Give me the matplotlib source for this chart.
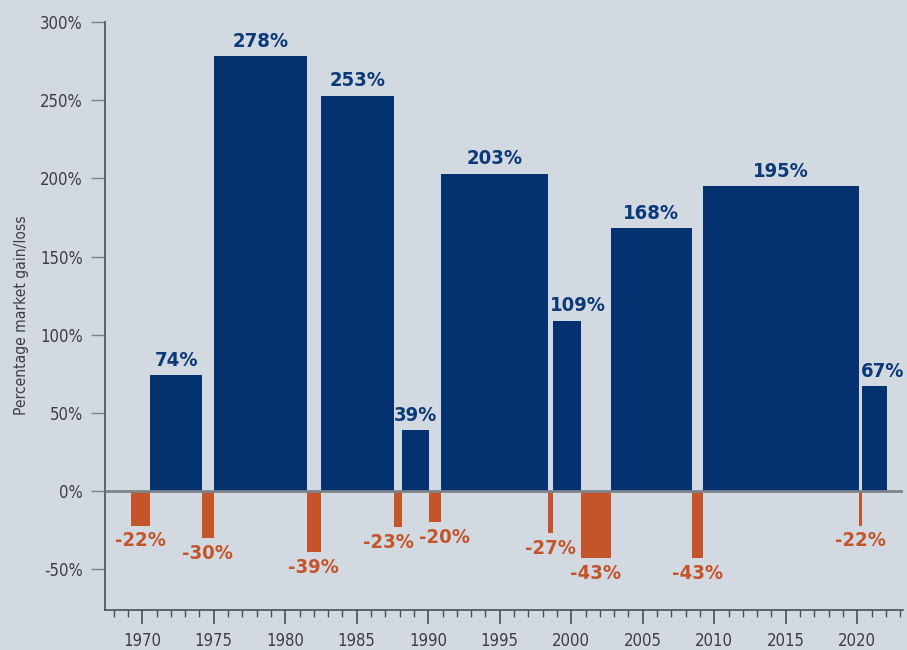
import matplotlib
matplotlib.use("Agg")
import matplotlib.pyplot as plt
from matplotlib import font_manager
from matplotlib.ticker import MultipleLocator, FuncFormatter
import numpy as np

# period boundaries (decimal years) and gain/loss for each period
bounds = [1969.2, 1970.55, 1974.2, 1975.0, 1981.5, 1982.5, 1987.6, 1988.15, 1990.05,
          1990.9, 1998.35, 1998.75, 2000.7, 2002.75, 2008.45, 2009.2, 2020.1, 2020.35, 2022.1]
values = [-22, 74, -30, 278, -39, 253, -23, 39, -20, 203, -27, 109, -43, 168, -43, 195, -22, 67]

bg = "#d3d9e0"
blue = "#04316f"
orange = "#c4552a"

# pick a narrow font if one is around
names = {f.name for f in font_manager.fontManager.ttflist}
if "Liberation Sans Narrow" in names:
    fam = ["Liberation Sans Narrow", "DejaVu Sans"]
    stretch = "normal"
else:
    fam = ["DejaVu Sans"]
    stretch = "condensed"
lab_fs = 14.5
plt.rcParams["font.family"] = fam
plt.rcParams["font.stretch"] = stretch

# sideways nudges (points) for labels that would collide
nudge = {6: -7, 8: 7, 11: 8, 17: 6}

fig = plt.figure(figsize=(9.07, 6.5), dpi=100, facecolor=bg)
ax = fig.add_axes([0.1158, 0.0615, 0.8798, 0.9045])
ax.set_facecolor(bg)

starts = np.array(bounds[:-1])
widths = np.diff(bounds)
vals = np.array(values)
colors = [blue if v > 0 else orange for v in vals]
ax.bar(starts, vals, width=widths, align="edge", color=colors, linewidth=0, zorder=2)
ax.axhline(0, color="#7c838b", lw=2, zorder=3)

for i, (s, w, v) in enumerate(zip(starts, widths, vals)):
    dx = nudge.get(i, 0)
    if v > 0:
        ax.annotate(f"{v}%", (s + w / 2, v), xytext=(dx, 4), textcoords="offset points",
                    ha="center", va="bottom", fontsize=lab_fs, fontweight="bold",
                    fontstretch=stretch, color="#0b3a78")
    else:
        ax.annotate(f"{v}%", (s + w / 2, v), xytext=(dx, -4), textcoords="offset points",
                    ha="center", va="top", fontsize=lab_fs, fontweight="semibold",
                    fontstretch=stretch, color=orange)

ax.set_xlim(1967.4, 2023.2)
ax.set_ylim(-76, 300)
ax.xaxis.set_major_locator(MultipleLocator(5))
ax.xaxis.set_minor_locator(MultipleLocator(1))
ax.yaxis.set_major_locator(MultipleLocator(50))
ax.yaxis.set_major_formatter(FuncFormatter(lambda v, p: f"{int(v)}%"))

for sp in ["top", "right"]:
    ax.spines[sp].set_visible(False)
for sp in ["left", "bottom"]:
    ax.spines[sp].set_color("#4a5058")
    ax.spines[sp].set_linewidth(1.2)

ax.tick_params(axis="x", which="major", length=10, width=1.2, color="#4a5058",
               labelsize=12, labelcolor="#3a3f46", pad=6)
ax.tick_params(axis="x", which="minor", length=5, width=1, color="#4a5058")
ax.tick_params(axis="y", which="major", length=10, width=1, color="#7c838b",
               labelsize=12, labelcolor="#3a3f46", pad=6)
for t in ax.get_xticklabels() + ax.get_yticklabels():
    t.set_fontstretch(stretch)

ax.set_ylabel("Percentage market gain/loss", fontsize=11.2, color="#3a3f46",
              fontstretch=stretch)
ax.yaxis.set_label_coords(-0.095, 0.502)

fig.savefig("out.png", dpi=100, facecolor=bg)
